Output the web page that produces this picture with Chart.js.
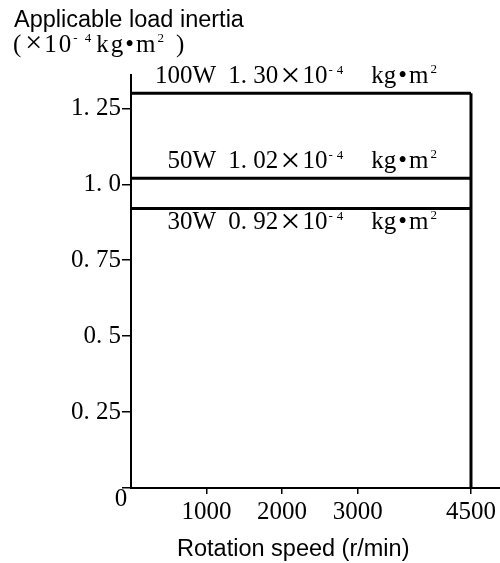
<!DOCTYPE html>
<html>
<head>
<meta charset="utf-8">
<script src="https://cdn.jsdelivr.net/npm/chart.js@4"></script>
<style>
  body{margin:0;background:#fff;}
  #wrap{position:relative;width:500px;height:563px;}
  #chart{position:absolute;left:0;top:0;}
  .ttl{position:absolute;white-space:nowrap;color:#000;line-height:1;}
  .sans{font-family:"Liberation Sans",Arial,sans-serif;font-size:23.5px;}
  .serif{font-family:"Liberation Serif",serif;font-size:25px;letter-spacing:2px;}
  .serif sup{font-size:13px;line-height:0;vertical-align:0;position:relative;top:-10px;}
  .serif .big{font-size:30px;line-height:0;}
</style>
</head>
<body>
<div id="wrap">
  <canvas id="chart" width="500" height="563"></canvas>
  <div class="ttl sans" style="left:14px;top:8px;">Applicable load inertia</div>
  <div class="ttl serif" style="left:13px;top:31px;">(<span class="big" style="margin-left:2px">×</span>10<sup>-&nbsp;4</sup><span style="margin-left:3px">kg•m</span><sup>2</sup><span style="margin-left:10px">)</span></div>
  <div class="ttl sans" style="left:177px;top:537px;">Rotation speed (r/min)</div>
</div>
<script>
// rated speed range (r/min)
const speeds=[0,4500];
// motor capacity and applicable load inertia (x10^-4 kg·m²)
const motors=['100W','50W','30W'];
const inertia=[1.30,1.02,0.92];
const inertiaText=['1. 30','1. 02','0. 92'];
// axis ticks
const xTicks=[1000,2000,3000,4500];
const yTicks=[0,0.25,0.5,0.75,1.0,1.25];
const yTickText={0:'',0.25:'0. 25',0.5:'0. 5',0.75:'0. 75',1:'1. 0',1.25:'1. 25'};

const serif='"Liberation Serif", serif';

const datasets=motors.map((m,i)=>({
  label:m,
  data:speeds.map(s=>({x:s,y:inertia[i]})),
  borderColor:'#000',borderWidth:3,pointRadius:0,tension:0
}));
datasets.push({
  label:'limit',
  data:[{x:speeds[1],y:0},{x:speeds[1],y:Math.max(...inertia)}],
  borderColor:'#000',borderWidth:3,pointRadius:0
});

// labels over the lines + the origin "0"
const labelPlugin={
  id:'labels',
  afterDatasetsDraw(chart){
    const {ctx,scales:{x,y}}=chart;
    ctx.save();
    ctx.fillStyle='#000';
    ctx.textBaseline='alphabetic';
    const right=x.getPixelForValue(speeds[1])-34;
    const offs=[-10,-10,20];
    motors.forEach((m,i)=>{
      // text, font size, baseline shift, gap after
      const parts=[
        [m,25,0,12],
        [inertiaText[i],25,0,2],
        ['×',36,4,2],
        ['10',25,0,1],
        ['-',13,-9,4],
        ['4',13,-9,28],
        ['kg',25,0,2],
        ['•',25,0,2],
        ['m',25,0,2],
        ['2',13,-10,0]
      ];
      let w=0;
      parts.forEach(([t,fs,dy,g])=>{ctx.font=fs+'px '+serif;w+=ctx.measureText(t).width+g;});
      let px=right-w;
      const base=y.getPixelForValue(inertia[i])+offs[i];
      parts.forEach(([t,fs,dy,g])=>{
        ctx.font=fs+'px '+serif;
        ctx.fillText(t,px,base+dy);
        px+=ctx.measureText(t).width+g;
      });
    });
    ctx.font='25px '+serif;
    ctx.textAlign='center';
    ctx.textBaseline='middle';
    ctx.fillText('0',x.getPixelForValue(0)-10,y.getPixelForValue(0)+11);
    ctx.restore();
  }
};

new Chart(document.getElementById('chart').getContext('2d'),{
  type:'line',
  data:{datasets},
  options:{
    responsive:false,
    animation:false,
    layout:{padding:{top:75,left:0,right:0,bottom:0}},
    plugins:{legend:{display:false},tooltip:{enabled:false}},
    scales:{
      x:{
        type:'linear',min:0,max:4884,
        afterBuildTicks:a=>{a.ticks=xTicks.map(v=>({value:v}));},
        afterFit:s=>{s.height=75;},
        grid:{drawOnChartArea:false,drawTicks:true,tickLength:6,color:'#000',lineWidth:1.5},
        border:{display:true,color:'#000',width:2},
        ticks:{color:'#000',font:{family:serif,size:25},padding:3,maxRotation:0,autoSkip:false,callback:v=>String(v)}
      },
      y:{
        type:'linear',min:0,max:1.36,
        afterBuildTicks:a=>{a.ticks=yTicks.map(v=>({value:v}));},
        afterFit:s=>{s.width=131;},
        grid:{drawOnChartArea:false,drawTicks:true,tickLength:9,color:'#000',lineWidth:1.5},
        border:{display:true,color:'#000',width:2},
        ticks:{color:'#000',font:{family:serif,size:25},padding:1,autoSkip:false,callback:v=>yTickText[v]}
      }
    }
  },
  plugins:[labelPlugin]
});
</script>
</body>
</html>
